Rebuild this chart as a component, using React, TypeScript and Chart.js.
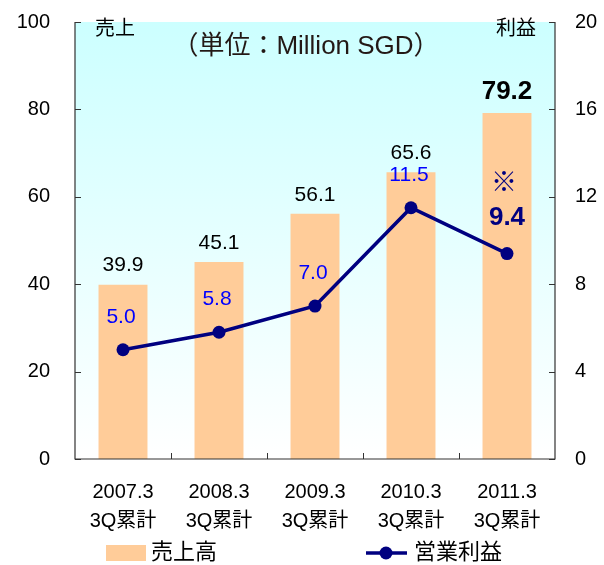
import React, { useEffect, useRef } from "react";
import { Chart, registerables } from "chart.js";

Chart.register(...registerables);

const categories: string[][] = [
  ["2007.3", "3Q累計"],
  ["2008.3", "3Q累計"],
  ["2009.3", "3Q累計"],
  ["2010.3", "3Q累計"],
  ["2011.3", "3Q累計"],
];
const salesValues = [39.9, 45.1, 56.1, 65.6, 79.2];
const profitValues = [5.0, 5.8, 7.0, 11.5, 9.4];
const salesName = "売上高";
const profitName = "営業利益";
const leftAxisTitle = "売上";
const rightAxisTitle = "利益";
const unitTitle = "（単位：Million SGD）";
const noteMark = "※";
const leftTicks = [0, 20, 40, 60, 80, 100];
const rightTicks = [0, 4, 8, 12, 16, 20];

const FONT = "'Liberation Sans', 'Noto Sans CJK JP', sans-serif";
const BAR_COLOR = "#FFCC99";
const LINE_COLOR = "#000080";
const AXIS_COLOR = "#333333";

function zeroPad(s: any) {
  s.paddingTop = 0;
  s.paddingBottom = 0;
  s.paddingLeft = 0;
  s.paddingRight = 0;
}

export default function App() {
  const ref = useRef<HTMLCanvasElement | null>(null);

  useEffect(() => {
    document.body.style.margin = "0";
    const canvas = ref.current;
    if (!canvas) return;

    const decor = {
      id: "decor",
      beforeDatasetsDraw(chart: any) {
        const { ctx, chartArea } = chart;
        const { left, right, top, bottom } = chartArea;
        ctx.save();
        const g = ctx.createLinearGradient(0, top, 0, bottom);
        g.addColorStop(0, "#CCFFFF");
        g.addColorStop(1, "#FFFFFF");
        ctx.fillStyle = g;
        ctx.fillRect(left, top, right - left, bottom - top);
        ctx.restore();
      },
      afterDatasetsDraw(chart: any) {
        const { ctx, chartArea, scales } = chart;
        const { left, right, top, bottom } = chartArea;
        const y = scales.y;
        const y1 = scales.y1;
        const x = scales.x;
        ctx.save();
        // axis lines
        ctx.strokeStyle = AXIS_COLOR;
        ctx.lineWidth = 1.2;
        ctx.beginPath();
        ctx.moveTo(left, top);
        ctx.lineTo(left, bottom);
        ctx.lineTo(right, bottom);
        ctx.lineTo(right, top);
        ctx.stroke();
        // inward ticks
        ctx.lineWidth = 1;
        ctx.beginPath();
        leftTicks.forEach((v) => {
          const py = Math.round(y.getPixelForValue(v)) + 0.5;
          ctx.moveTo(left, py);
          ctx.lineTo(left + 6, py);
        });
        rightTicks.forEach((v) => {
          const py = Math.round(y1.getPixelForValue(v)) + 0.5;
          ctx.moveTo(right, py);
          ctx.lineTo(right - 6, py);
        });
        for (let i = 0; i < categories.length - 1; i++) {
          const px = Math.round((x.getPixelForValue(i) + x.getPixelForValue(i + 1)) / 2) + 0.5;
          ctx.moveTo(px, bottom);
          ctx.lineTo(px, bottom - 6);
        }
        ctx.stroke();

        ctx.textAlign = "center";
        ctx.textBaseline = "middle";
        const last = categories.length - 1;
        // bar labels
        salesValues.forEach((v, i) => {
          const px = x.getPixelForValue(i);
          const py = y.getPixelForValue(v);
          ctx.fillStyle = "#000000";
          if (i === last) {
            ctx.font = `bold 26px ${FONT}`;
            ctx.fillText(v.toFixed(1), px, py - 21);
          } else {
            ctx.font = `21px ${FONT}`;
            ctx.fillText(v.toFixed(1), px, py - 19);
          }
        });
        // line labels
        profitValues.forEach((v, i) => {
          const px = x.getPixelForValue(i);
          const py = y1.getPixelForValue(v);
          if (i === last) {
            ctx.font = `bold 26px ${FONT}`;
            ctx.fillStyle = LINE_COLOR;
            ctx.fillText(v.toFixed(1), px, py - 36);
            ctx.font = `26px ${FONT}`;
            ctx.fillText(noteMark, px - 3, py - 70);
          } else {
            ctx.font = `21px ${FONT}`;
            ctx.fillStyle = "#0000FF";
            ctx.fillText(v.toFixed(1), px - 2, py - 33);
          }
        });
        // titles
        ctx.fillStyle = "#000000";
        ctx.font = `20px ${FONT}`;
        ctx.textAlign = "left";
        ctx.fillText(leftAxisTitle, 95, top + 7);
        ctx.textAlign = "right";
        ctx.fillText(rightAxisTitle, 536, top + 7);
        ctx.textAlign = "center";
        ctx.font = `26px ${FONT}`;
        ctx.fillStyle = "#231815";
        ctx.fillText(unitTitle, 306, top + 25);

        // legend
        const ly = 553;
        ctx.fillStyle = BAR_COLOR;
        ctx.fillRect(106, ly - 8, 40, 16);
        ctx.fillStyle = "#000000";
        ctx.font = `22px ${FONT}`;
        ctx.textAlign = "left";
        ctx.fillText(salesName, 151, ly);
        ctx.strokeStyle = LINE_COLOR;
        ctx.lineWidth = 3.5;
        ctx.beginPath();
        ctx.moveTo(366, ly);
        ctx.lineTo(407, ly);
        ctx.stroke();
        ctx.fillStyle = LINE_COLOR;
        ctx.beginPath();
        ctx.arc(386, ly, 6.5, 0, Math.PI * 2);
        ctx.fill();
        ctx.fillStyle = "#000000";
        ctx.fillText(profitName, 414, ly);
        ctx.restore();
      },
    };

    const chart = new Chart(canvas, {
      type: "bar",
      data: {
        labels: categories,
        datasets: [
          {
            type: "line",
            label: profitName,
            data: profitValues,
            yAxisID: "y1",
            borderColor: LINE_COLOR,
            backgroundColor: LINE_COLOR,
            borderWidth: 3.5,
            pointRadius: 6.5,
            pointBackgroundColor: LINE_COLOR,
            pointBorderWidth: 0,
            order: 0,
          } as any,
          {
            type: "bar",
            label: salesName,
            data: salesValues,
            yAxisID: "y",
            backgroundColor: BAR_COLOR,
            barPercentage: 0.51,
            categoryPercentage: 1,
            order: 1,
          },
        ],
      },
      options: {
        responsive: false,
        animation: false,
        layout: { padding: { top: 22, left: 0, right: 0, bottom: 0 } },
        plugins: {
          legend: { display: false },
          tooltip: { enabled: false },
        },
        scales: {
          x: {
            grid: { display: false, drawTicks: false },
            border: { display: false },
            ticks: {
              font: { family: FONT, size: 20, lineHeight: 1.45 },
              color: "#000000",
              padding: 19,
              maxRotation: 0,
            },
            afterFit: (s: any) => {
              zeroPad(s);
              s.height = 106;
            },
          },
          y: {
            position: "left",
            min: 0,
            max: 100,
            ticks: {
              stepSize: 20,
              font: { family: FONT, size: 20 },
              color: "#000000",
              padding: 25,
            },
            grid: { display: false, drawTicks: false },
            border: { display: false },
            afterFit: (s: any) => {
              zeroPad(s);
              s.width = 75;
            },
          },
          y1: {
            position: "right",
            min: 0,
            max: 20,
            ticks: {
              stepSize: 4,
              font: { family: FONT, size: 20 },
              color: "#000000",
              padding: 20,
            },
            grid: { display: false, drawTicks: false },
            border: { display: false },
            afterFit: (s: any) => {
              zeroPad(s);
              s.width = 49;
            },
          },
        },
      },
      plugins: [decor],
    });

    return () => chart.destroy();
  }, []);

  return (
    <div style={{ width: 604, height: 565 }}>
      <canvas ref={ref} width={604} height={565} style={{ display: "block" }} />
    </div>
  );
}
